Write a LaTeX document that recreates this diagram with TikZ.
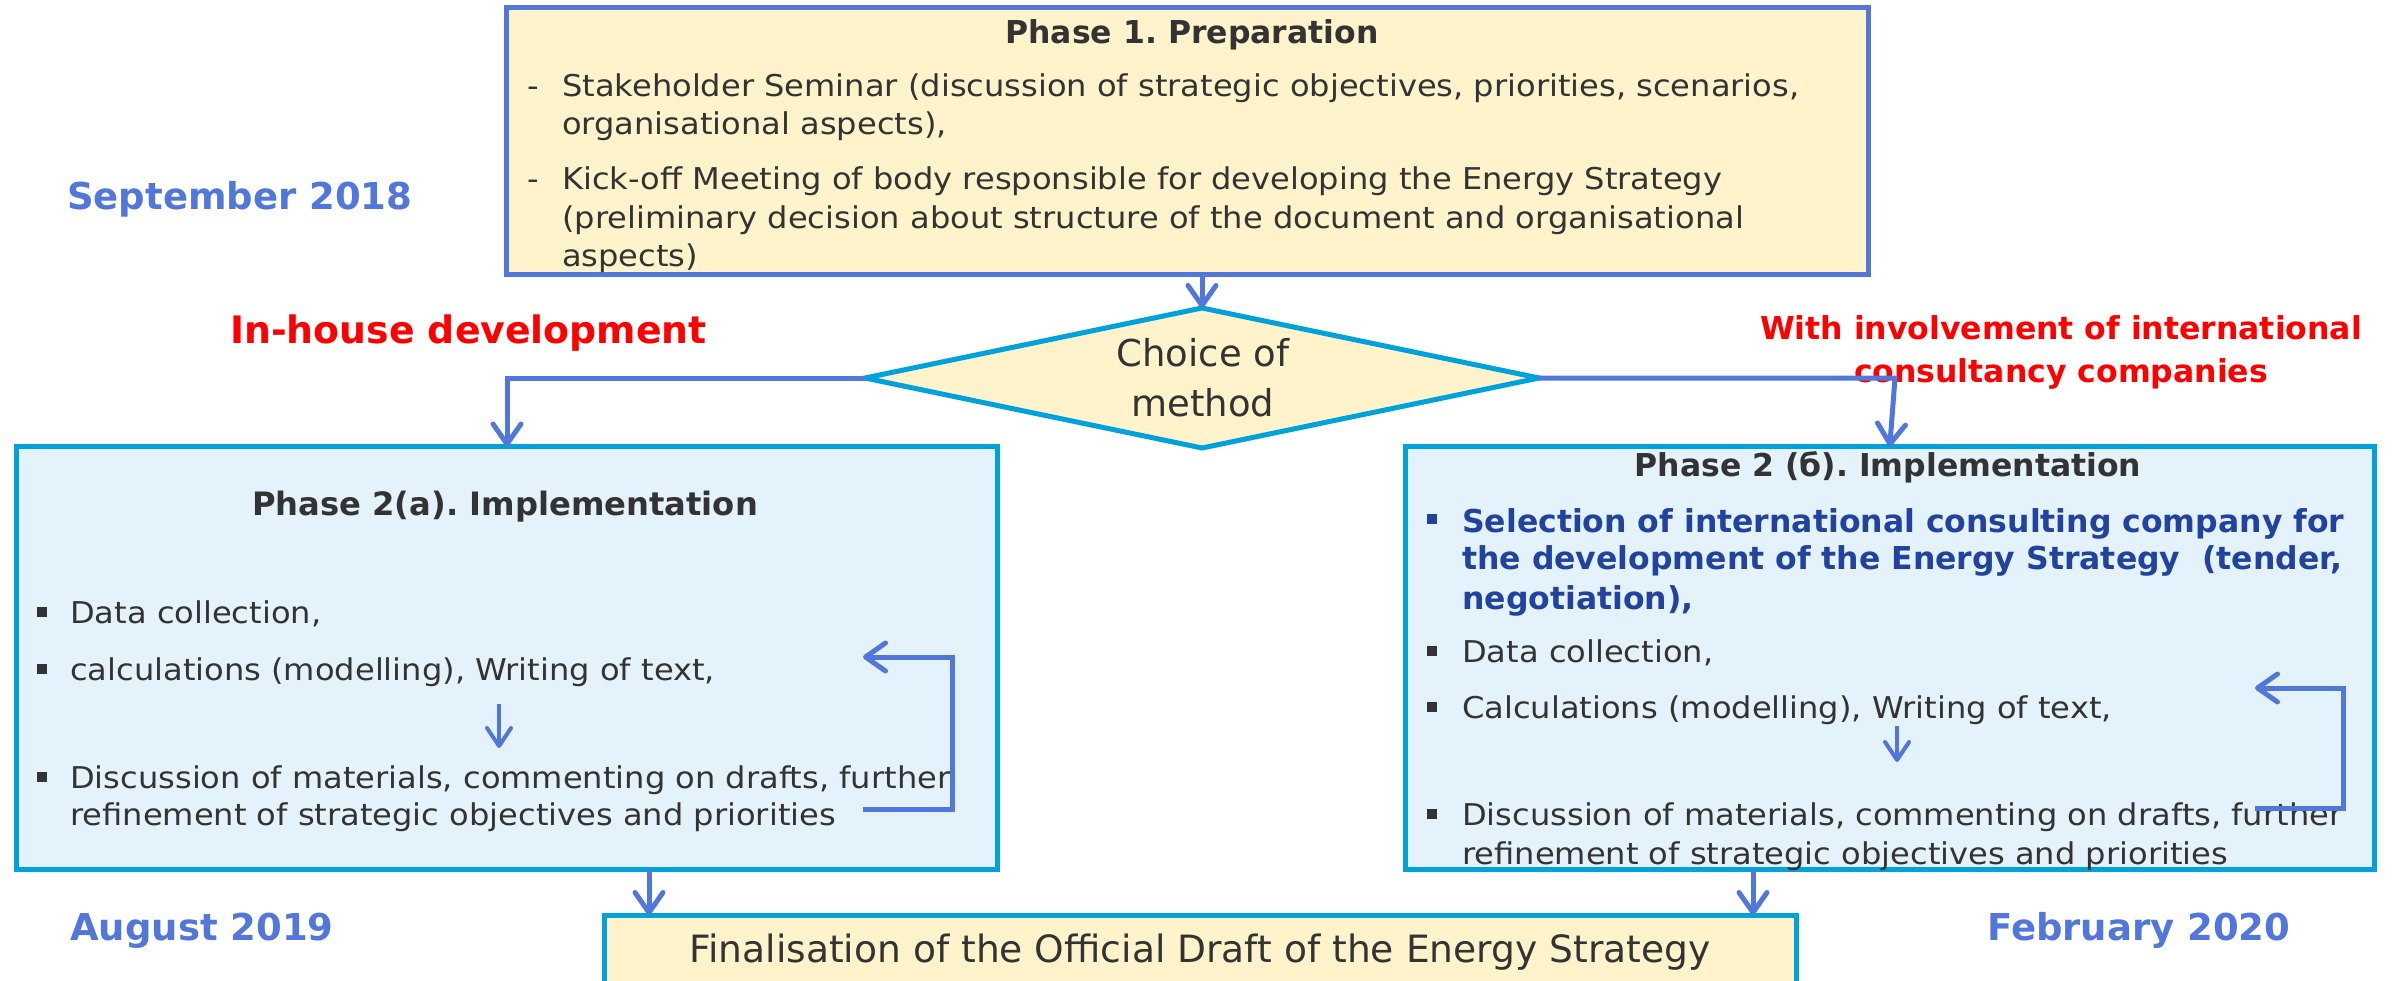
\documentclass[tikz,border=0pt]{standalone}
\usepackage{fontspec}
\setmainfont{DejaVu Sans}
\newfontfamily\bodyf{DejaVu Sans}[FakeStretch=1.07]
\usetikzlibrary{arrows.meta,shapes.geometric}
\definecolor{cblue}{RGB}{82,119,219}
\definecolor{ccyan}{RGB}{0,162,220}
\definecolor{cyel}{RGB}{255,243,204}
\definecolor{clblue}{RGB}{228,243,251}
\definecolor{ctext}{RGB}{51,51,51}
\definecolor{cdblue}{RGB}{34,66,160}
\definecolor{cred}{RGB}{255,0,0}
\tikzset{
  boxA/.style={draw=cblue, fill=cyel, line width=5pt, inner sep=0pt, outer sep=0pt},
  boxB/.style={draw=ccyan, fill=clblue, line width=5pt, inner sep=0pt, outer sep=0pt},
  boxC/.style={draw=ccyan, fill=cyel, line width=5pt, inner sep=0pt, outer sep=0pt},
  dia/.style={diamond, draw=ccyan, fill=cyel, line width=5pt, inner sep=0pt, outer sep=0pt},
  conn/.style={draw=cblue, line width=5pt, -{Straight Barb[length=20pt,width=28pt,round]}},
  thin conn/.style={draw=cblue, line width=4pt, -{Straight Barb[length=18pt,width=24pt,round]}},
  bt/.style={anchor=west, inner sep=0pt, yshift=-9pt, text=ctext, text height=0.76em, text depth=0.24em, font=\bodyf\fontsize{30}{36}\selectfont},
  bbt/.style={anchor=west, inner sep=0pt, yshift=-9pt, text=cdblue, text height=0.76em, text depth=0.24em, font=\fontsize{31.5}{38}\selectfont\bfseries},
  ttl/.style={inner sep=0pt, yshift=-9pt, text=ctext, text height=0.76em, text depth=0.24em, font=\fontsize{31.5}{38}\selectfont\bfseries},
  month/.style={anchor=west, inner sep=0pt, yshift=-12pt, text=cblue, text height=0.76em, text depth=0.24em, font=\fontsize{37}{44}\selectfont\bfseries},
  redlbl/.style={inner sep=0pt, text=cred, font=\bfseries},
  bsq/.style={fill=ctext, minimum size=10pt, inner sep=0pt},
}
\begin{document}
\frenchspacing
\begin{tikzpicture}[x=1pt,y=-1pt]
\useasboundingbox (0,0) rectangle (2395,980);
\fill[white] (0,0) rectangle (2395,980);

% ---------- Phase 1 ----------
\node[boxA, minimum width=1361.5pt, minimum height=267pt] (p1) at (1187.25,141) {};
\node[ttl] (p1t) at (1192,32) {Phase 1. Preparation};
\node[bt] (p1d1) at (527,85) {-};
\node[bt] (p1l1) at (562,85) {Stakeholder Seminar (discussion of strategic objectives, priorities, scenarios,};
\node[bt] (p1l2) at (562,123) {organisational aspects),};
\node[bt] (p1d2) at (527,178) {-};
\node[bt] (p1l3) at (562,178) {Kick-off Meeting of body responsible for developing the Energy Strategy};
\node[bt] (p1l4) at (562,217) {(preliminary decision about structure of the document and organisational};
\node[bt] (p1l5) at (562,255) {aspects)};

% ---------- labels ----------
\node[month] (sep) at (67,195) {September 2018};
\node[month] (aug) at (70,926) {August 2019};
\node[month] (feb) at (1987,926) {February 2020};
\node[redlbl, anchor=west, yshift=-9pt, font=\fontsize{37.8}{44}\selectfont\bfseries, text height=0.76em, text depth=0.24em] (inh) at (230,332) {In-house development};
\node[redlbl, align=center, yshift=-3pt, font=\fontsize{31.5}{43}\selectfont\bfseries] (intl) at (2061,349) {With involvement of international\\consultancy companies};

% ---------- diamond ----------
\node[dia, minimum width=674pt, minimum height=140pt] (dia) at (1202,378) {};
\node[inner sep=0pt, align=center, yshift=2pt, text=ctext, font=\fontsize{37}{50}\selectfont] (diat) at (1203,380) {Choice of\\method};

% ---------- Phase 2(a) ----------
\node[boxB, minimum width=981pt, minimum height=423pt] (p2a) at (507,658) {};
\node[ttl, font=\fontsize{32.2}{38}\selectfont\bfseries] (p2at) at (505,504) {Phase 2(a). Implementation};
\node[bsq] (a1b) at (41.5,612) {};
\node[bt] (a1) at (70,612) {Data collection,};
\node[bsq] (a2b) at (41.5,669) {};
\node[bt] (a2) at (70,669) {calculations (modelling), Writing of text,};
\node[bsq] (a3b) at (41.5,777) {};
\node[bt] (a3) at (70,777) {Discussion of materials, commenting on drafts, further};
\node[bt] (a4) at (70,814) {refinement of strategic objectives and priorities};

% ---------- Phase 2(b) ----------
\node[boxB, minimum width=968.5pt, minimum height=423pt] (p2b) at (1889.75,658) {};
\node[ttl] (p2bt) at (1888,465) {Phase 2 (б). Implementation};
\node[bsq, fill=cdblue] (b1b) at (1432,519) {};
\node[bbt] (b1) at (1462,521) {Selection of international consulting company for};
\node[bbt] (b2) at (1462,558) {the development of the Energy Strategy \ (tender,};
\node[bbt] (b3) at (1462,598) {negotiation),};
\node[bsq] (b4b) at (1432,651) {};
\node[bt] (b4) at (1462,651) {Data collection,};
\node[bsq] (b5b) at (1432,707) {};
\node[bt] (b5) at (1462,707) {Calculations (modelling), Writing of text,};
\node[bsq] (b6b) at (1432,814) {};
\node[bt] (b6) at (1462,814) {Discussion of materials, commenting on drafts, further};
\node[bt] (b7) at (1462,853) {refinement of strategic objectives and priorities};

% ---------- Final ----------
\node[boxC, minimum width=1192pt, minimum height=100pt] (fin) at (1200.5,965) {};
\node[inner sep=0pt, yshift=-10pt, text=ctext, font=\fontsize{37.6}{44}\selectfont, text height=0.76em, text depth=0.24em] (fint) at (1200,950) {Finalisation of the Official Draft of the Energy Strategy};

% ---------- connectors ----------
\draw[conn] (dia.north |- p1.south) -- (dia.north);
\draw[conn] (dia.west) -| (p2a.north);
\draw[conn] (dia.east) -- ++(356,0) -- (p2b.north);
\coordinate (ka) at (649,0);
\coordinate (kb) at (1753,0);
\draw[conn] (p2a.south -| ka) -- (fin.north -| ka);
\draw[conn] (p2b.south -| kb) -- (fin.north -| kb);

% internal arrows
\coordinate (sa1) at (499,704);
\coordinate (sa2) at (499,748);
\draw[thin conn] (sa1) -- (sa2);
\coordinate (sb1) at (1897,726);
\coordinate (sb2) at (1897,762);
\draw[thin conn] (sb1) -- (sb2);

% loops
\coordinate (la1) at (863,809);
\coordinate (la2) at (952,809);
\coordinate (la3) at (952,657);
\coordinate (la4) at (863,657);
\draw[conn] (la1) -- (la2) -- (la3) -- (la4);
\coordinate (lb1) at (2255,808);
\coordinate (lb2) at (2343,808);
\coordinate (lb3) at (2343,688);
\coordinate (lb4) at (2255,688);
\draw[conn] (lb1) -- (lb2) -- (lb3) -- (lb4);
\end{tikzpicture}
\end{document}
